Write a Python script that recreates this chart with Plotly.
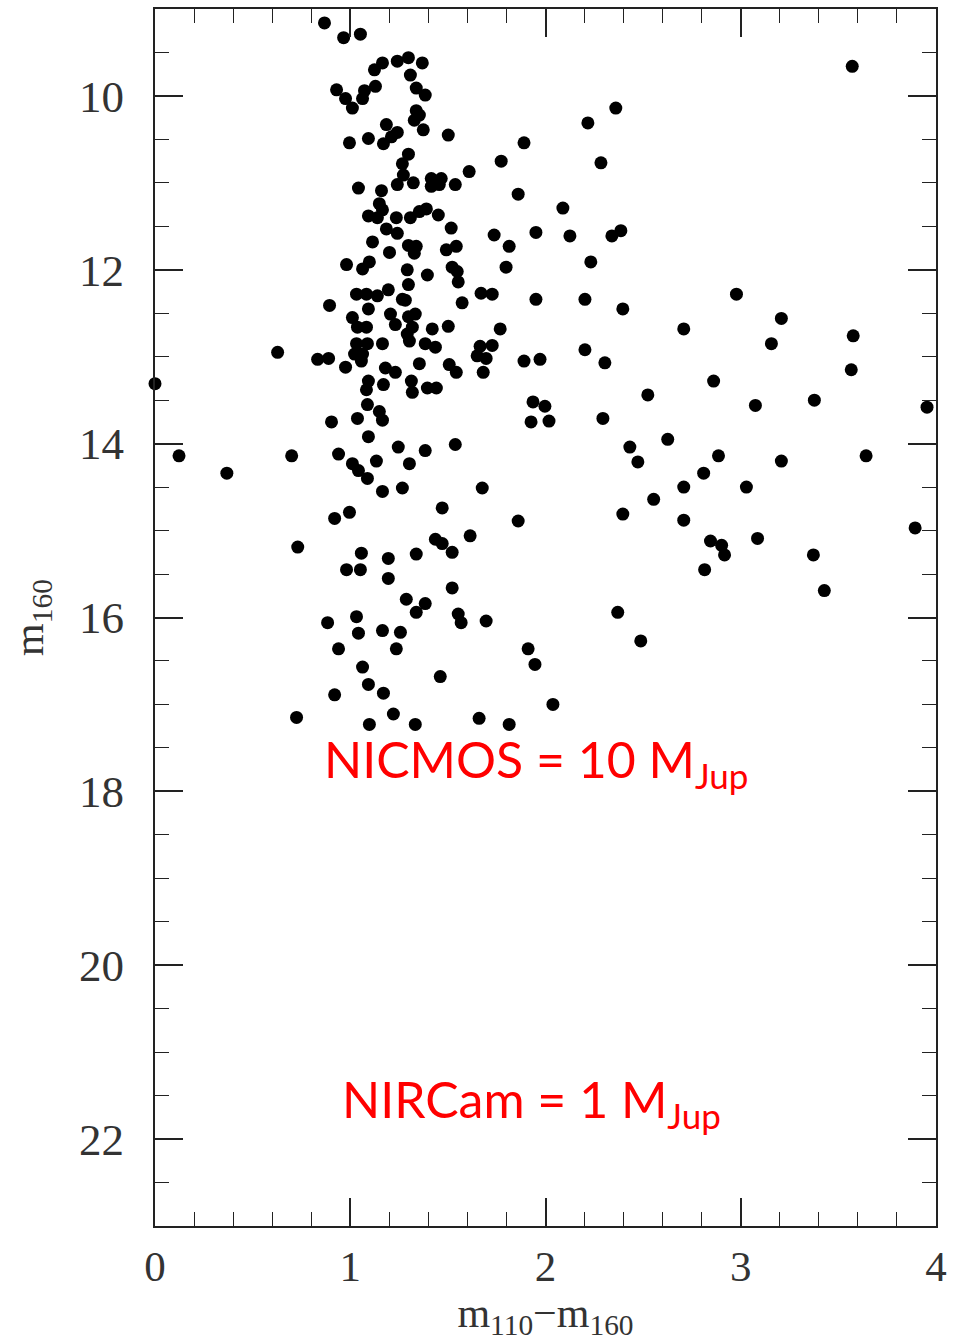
import plotly.graph_objects as go

# m110 - m160 colour and m160 magnitude
color = [0.868, 0.966, 1.052, 1.165, 1.124, 1.241, 1.298, 1.369, 1.308, 0.930,
         0.976, 1.011, 1.063, 1.073, 1.129, 1.338, 1.384, 1.338, 1.354, 1.328,
         1.374, 1.185, 1.241, 1.211, 1.093, 1.170, 0.996, 1.502, 1.890, 1.298,
         1.773, 1.267, 1.609, 1.860, 1.272, 1.042, 1.160, 1.241, 1.323, 1.415,
         1.466, 1.415, 1.456, 1.538, 1.149, 1.165, 1.093, 1.139, 1.236, 1.308,
         1.354, 1.390, 1.451, 1.517, 1.185, 1.241, 1.737, 1.114, 1.201, 1.298,
         1.338, 1.328, 1.492, 1.543, 1.814,
         3.571, 2.360, 2.217, 2.284, 2.089, 1.951, 2.125, 2.340, 2.386,
         0.894, 0.628, 0.833, 0.889, 0.000, 0.904, 0.123, 0.700, 0.940, 0.368,
         0.981, 1.063, 1.098, 1.292, 1.395, 1.522, 1.548, 1.553, 1.798, 1.298,
         1.195, 1.032, 1.083, 1.139, 1.267, 1.282, 1.573, 1.670, 1.727, 1.093,
         1.011, 1.206, 1.231, 1.298, 1.333, 1.037, 1.083, 1.318, 1.420, 1.502,
         1.768, 1.292, 1.303, 1.032, 1.088, 1.165, 1.384, 1.436, 1.665, 1.727,
         1.022, 1.063, 1.057, 0.976, 1.354, 1.650, 1.696, 1.507, 1.543, 1.180,
         1.231, 1.681, 1.890, 1.093, 1.083, 1.170, 1.313, 1.318, 1.395, 1.441,
         1.088, 1.149, 1.165, 1.037, 1.093, 1.246, 1.384, 1.538, 1.011, 1.042,
         1.134, 1.303, 1.088, 1.165, 1.267, 1.676, 1.926,
         2.232, 1.951, 2.202, 2.396, 2.708, 2.978, 3.208, 3.157, 3.576, 3.566,
         1.972, 2.202, 2.304, 2.861, 2.524, 1.936, 1.997, 2.018, 2.294, 3.075,
         3.377, 3.954, 2.432, 2.473, 2.626, 2.886, 3.208, 3.642, 2.810, 2.708,
         3.029,
         0.920, 0.731, 0.884, 0.940, 0.920, 0.725,
         0.996, 1.471, 1.860, 1.436, 1.471, 1.614, 1.522, 1.057, 1.195, 1.338,
         0.981, 1.052, 1.195, 1.522, 1.287, 1.384, 1.338, 1.553, 1.568, 1.696,
         1.032, 1.042, 1.165, 1.257, 1.236, 1.063, 1.911, 1.946, 1.461, 1.093,
         1.170, 2.038, 1.221, 1.098, 1.333, 1.660, 1.814,
         2.554, 2.396, 2.708, 2.845, 2.902, 2.917, 3.086, 2.815, 3.372, 3.893,
         3.428, 2.370, 2.488]

m160 = [9.16, 9.33, 9.29, 9.62, 9.70, 9.60, 9.56, 9.62, 9.76, 9.93,
        10.03, 10.14, 10.03, 9.94, 9.89, 9.91, 9.99, 10.17, 10.22, 10.28,
        10.39, 10.33, 10.42, 10.47, 10.49, 10.55, 10.54, 10.45, 10.54, 10.67,
        10.75, 10.78, 10.87, 11.13, 10.91, 11.06, 11.09, 11.02, 11.00, 10.95,
        10.95, 11.04, 11.02, 11.02, 11.24, 11.31, 11.38, 11.40, 11.40, 11.40,
        11.33, 11.30, 11.37, 11.52, 11.53, 11.58, 11.60, 11.68, 11.80, 11.72,
        11.73, 11.81, 11.77, 11.73, 11.73,
        9.66, 10.14, 10.31, 10.77, 11.29, 11.57, 11.61, 11.61, 11.55,
        12.41, 12.95, 13.03, 13.02, 13.31, 13.75, 14.14, 14.14, 14.12, 14.34,
        11.94, 11.99, 11.91, 12.00, 12.06, 11.97, 12.02, 12.14, 11.97, 12.17,
        12.23, 12.28, 12.28, 12.30, 12.34, 12.35, 12.38, 12.27, 12.28, 12.45,
        12.55, 12.51, 12.63, 12.54, 12.51, 12.66, 12.66, 12.66, 12.68, 12.65,
        12.68, 12.74, 12.82, 12.85, 12.85, 12.85, 12.85, 12.89, 12.88, 12.87,
        12.97, 12.97, 13.05, 13.12, 13.08, 12.99, 13.02, 13.09, 13.18, 13.13,
        13.18, 13.18, 13.05, 13.28, 13.38, 13.32, 13.28, 13.41, 13.36, 13.36,
        13.55, 13.63, 13.73, 13.71, 13.92, 14.04, 14.08, 14.01, 14.23, 14.31,
        14.20, 14.23, 14.40, 14.55, 14.51, 14.51, 13.75,
        11.91, 12.34, 12.34, 12.45, 12.68, 12.28, 12.56, 12.85, 12.76, 13.15,
        13.03, 12.92, 13.07, 13.28, 13.44, 13.52, 13.57, 13.74, 13.71, 13.56,
        13.50, 13.58, 14.04, 14.21, 13.95, 14.14, 14.20, 14.14, 14.34, 14.50,
        14.50,
        14.86, 15.19, 16.06, 16.36, 16.89, 17.15,
        14.79, 14.74, 14.89, 15.10, 15.15, 15.06, 15.25, 15.26, 15.32, 15.27,
        15.45, 15.45, 15.55, 15.66, 15.79, 15.84, 15.94, 15.96, 16.06, 16.04,
        15.99, 16.18, 16.15, 16.17, 16.36, 16.57, 16.36, 16.54, 16.68, 16.77,
        16.87, 17.00, 17.11, 17.23, 17.23, 17.16, 17.23,
        14.64, 14.81, 14.88, 15.12, 15.17, 15.28, 15.09, 15.45, 15.28, 14.97,
        15.69, 15.94, 16.27]

x_ticks = [0, 1, 2, 3, 4]
y_ticks = [10, 12, 14, 16, 18, 20, 22]

labels = ["NICMOS = 10 M<sub>Jup</sub>", "NIRCam = 1 M<sub>Jup</sub>"]
label_x = [1.95, 1.93]
label_y = [17.67, 21.58]

fig = go.Figure()
fig.add_trace(go.Scatter(
    x=color, y=m160, mode="markers",
    marker=dict(color="black", size=13, line=dict(width=0)),
    cliponaxis=False, showlegend=False,
))

for t, lx, ly in zip(labels, label_x, label_y):
    fig.add_annotation(x=lx, y=ly, text=t, showarrow=False,
                       font=dict(family="Lato", size=50, color="#ff0000"))

tick_font = dict(family="Liberation Serif", size=45, color="#333333")
xtick_font = dict(family="Liberation Serif", size=43, color="#333333")
title_font = dict(family="Liberation Serif", size=42, color="#333333")

fig.update_xaxes(
    range=[0, 4], tickvals=x_ticks, ticktext=[str(v) for v in x_ticks],
    ticks="inside", ticklen=28, tickwidth=1.6, tickcolor="#222222",
    minor=dict(dtick=0.2, tick0=0, ticks="inside", ticklen=14, tickwidth=1.4,
               tickcolor="#222222", showgrid=False),
    showline=True, linewidth=2, linecolor="#222222", mirror="allticks",
    showgrid=False, zeroline=False, tickfont=xtick_font, ticklabelstandoff=1,
    title=dict(text="m<sub>110</sub>\u2212m<sub>160</sub>", font=title_font, standoff=2),
)
fig.update_yaxes(
    range=[23, 9], tickvals=y_ticks, ticktext=[str(v) for v in y_ticks],
    ticks="inside", ticklen=28, tickwidth=1.6, tickcolor="#222222",
    minor=dict(dtick=0.5, tick0=9, ticks="inside", ticklen=14, tickwidth=1.4,
               tickcolor="#222222", showgrid=False),
    showline=True, linewidth=2, linecolor="#222222", mirror="allticks",
    showgrid=False, zeroline=False, tickfont=tick_font, ticklabelstandoff=20,
    title=dict(text="m<sub>160</sub>", font=title_font, standoff=22),
)

fig.update_layout(
    width=954, height=1344,
    margin=dict(l=155, r=16, t=7, b=118),
    plot_bgcolor="white", paper_bgcolor="white",
)

fig.write_html("out.html")
